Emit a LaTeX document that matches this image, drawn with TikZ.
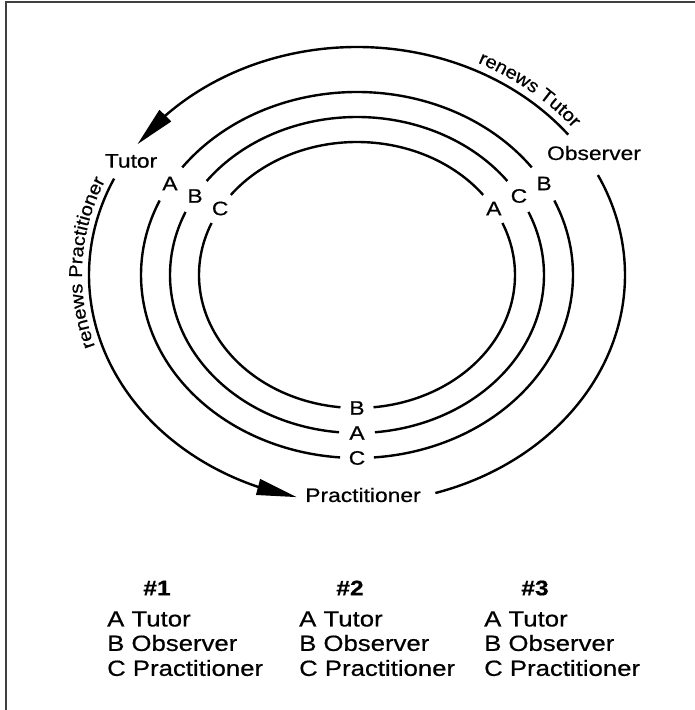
\documentclass[tikz,border=0pt]{standalone}
\usepackage{fontspec}
\setmainfont{Liberation Sans}[FakeStretch=1.17,FakeBold=0.6]
\newfontfamily\plainsans{Liberation Sans}[FakeStretch=1.08,FakeBold=0.6]
\usetikzlibrary{arrows.meta,bending,decorations.text}
\begin{document}
\begin{tikzpicture}[x=1pt,y=1pt,
  ring/.style={line width=2.4pt},
  lbl/.style={font=\fontsize{19.5}{22}\selectfont, inner sep=0pt},
  leg/.style={font=\fontsize{22}{26}\selectfont, inner sep=0pt, anchor=west},
  hdr/.style={font=\fontsize{21}{24}\selectfont\bfseries, inner sep=0pt},
  tipped/.style={-{Triangle[length=40pt,width=16pt]}}]
\useasboundingbox (0,0) rectangle (695,710);
\draw[line width=2pt, black!75] (5.5,0) -- (5.5,707.5) -- (695,707.5);

\begin{scope}[shift={(357,435)}]
  % outer arrow ellipse
  \draw[ring, tipped] (38:268pt and 228pt) arc[start angle=38, end angle=145, x radius=268pt, y radius=228pt];
  \draw[ring, tipped] (155:268pt and 228pt) arc[start angle=155, end angle=257, x radius=268pt, y radius=228pt];
  \draw[ring] (287:268pt and 228pt) arc[start angle=287, end angle=386, x radius=268pt, y radius=228pt];
  % ring 1
  \draw[ring] (36:216pt and 183pt) arc[start angle=36, end angle=144, x radius=216pt, y radius=183pt];
  \draw[ring] (156:216pt and 183pt) arc[start angle=156, end angle=265.5, x radius=216pt, y radius=183pt];
  \draw[ring] (274.5:216pt and 183pt) arc[start angle=274.5, end angle=384, x radius=216pt, y radius=183pt];
  % ring 2
  \draw[ring] (36.5:187pt and 158pt) arc[start angle=36.5, end angle=143.5, x radius=187pt, y radius=158pt];
  \draw[ring] (156.5:187pt and 158pt) arc[start angle=156.5, end angle=264.5, x radius=187pt, y radius=158pt];
  \draw[ring] (275.5:187pt and 158pt) arc[start angle=275.5, end angle=383.5, x radius=187pt, y radius=158pt];
  % ring 3
  \draw[ring] (37:158pt and 133pt) arc[start angle=37, end angle=143, x radius=158pt, y radius=133pt];
  \draw[ring] (157:158pt and 133pt) arc[start angle=157, end angle=264, x radius=158pt, y radius=133pt];
  \draw[ring] (276:158pt and 133pt) arc[start angle=276, end angle=383, x radius=158pt, y radius=133pt];
  % ring labels
  \node[lbl] (r1l) at (150:216pt and 183pt) {A};
  \node[lbl] (r2l) at (150:187pt and 158pt) {B};
  \node[lbl] (r3l) at (150:158pt and 133pt) {C};
  \node[lbl] (r1r) at (30:216pt and 183pt) {B};
  \node[lbl] (r2r) at (30:187pt and 158pt) {C};
  \node[lbl] (r3r) at (30:158pt and 133pt) {A};
  \node[lbl] (r1b) at (270:216pt and 183pt) {C};
  \node[lbl] (r2b) at (270:187pt and 158pt) {A};
  \node[lbl] (r3b) at (270:158pt and 133pt) {B};
  % curved texts
  \path[decorate, decoration={text along path, text align=center,
      text={|\plainsans\fontsize{18.5}{20}\selectfont|renews Tutor}}]
    (70:276pt and 236pt) arc[start angle=70, end angle=32, x radius=276pt, y radius=236pt];
  \path[decorate, decoration={text along path, text align=center,
      text={|\plainsans\fontsize{18.5}{20}\selectfont|renews Practitioner}}]
    (202:275pt and 235pt) arc[start angle=202, end angle=152, x radius=275pt, y radius=235pt];
\end{scope}

\node[lbl] (tutor) at (131,549) {Tutor};
\node[lbl] (observer) at (594,557) {Observer};
\node[lbl] (pract) at (363,215) {Practitioner};

\node[hdr] (h1) at (157,122) {\#1};
\node[hdr] (h2) at (350,122) {\#2};
\node[hdr] (h3) at (535,122) {\#3};
\node[leg] (a1) at (107,91) {A Tutor};
\node[leg] (b1) at (107,67) {B Observer};
\node[leg] (c1) at (107,42) {C Practitioner};
\node[leg] (a2) at (299,91) {A Tutor};
\node[leg] (b2) at (299,67) {B Observer};
\node[leg] (c2) at (299,42) {C Practitioner};
\node[leg] (a3) at (484,91) {A Tutor};
\node[leg] (b3) at (484,67) {B Observer};
\node[leg] (c3) at (484,42) {C Practitioner};
\end{tikzpicture}
\end{document}
